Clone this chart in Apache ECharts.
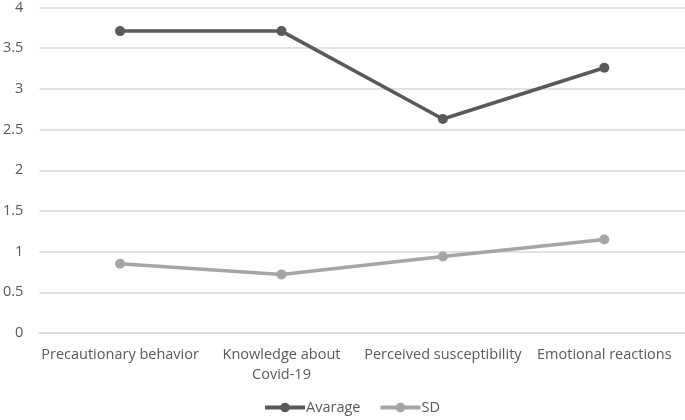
<!DOCTYPE html>
<html><head><meta charset="utf-8">
<script src="https://cdn.jsdelivr.net/npm/echarts@6/dist/echarts.min.js"></script>
<style>html,body{margin:0;padding:0;background:#fff}#c{width:685px;height:420px}</style>
</head><body><div id="c"></div>
<script>
var categories = ['Precautionary behavior', 'Knowledge about\nCovid-19', 'Perceived susceptibility', 'Emotional reactions'];
var average = [3.71, 3.71, 2.63, 3.26];
var sd = [0.85, 0.72, 0.94, 1.15];
var yTicks = {min: 0, max: 4, interval: 0.5};

var chart = echarts.init(document.getElementById('c'), null, {renderer: 'canvas'});
var font = '"Open Sans", sans-serif';
chart.setOption({
  animation: false,
  textStyle: {fontFamily: font},
  grid: {left: 36, right: 0, top: 6, bottom: 87, containLabel: false},
  legend: {
    bottom: 0, left: 258, itemWidth: 40, itemHeight: 12, itemGap: 18,
    lineStyle: {width: 4},
    textStyle: {color: '#595959', fontSize: 14.5, fontFamily: font, padding: [0, 0, 0, -4]},
    data: ['Avarage', 'SD']
  },
  xAxis: {
    type: 'category', data: categories, boundaryGap: true,
    axisLine: {lineStyle: {color: '#d9d9d9', width: 1.5}},
    axisTick: {show: false},
    axisLabel: {color: '#595959', fontSize: 14.5, margin: 12, interval: 0, lineHeight: 20, fontFamily: font}
  },
  yAxis: {
    type: 'value', min: yTicks.min, max: yTicks.max, interval: yTicks.interval,
    axisLine: {show: false}, axisTick: {show: false},
    splitLine: {lineStyle: {color: '#d9d9d9', width: 1.5}},
    axisLabel: {color: '#595959', fontSize: 14.5, margin: 16, fontFamily: font}
  },
  series: [
    {name: 'Avarage', type: 'line', data: average, symbol: 'circle', symbolSize: 10,
     lineStyle: {color: '#595959', width: 3.5}, itemStyle: {color: '#595959'}},
    {name: 'SD', type: 'line', data: sd, symbol: 'circle', symbolSize: 10,
     lineStyle: {color: '#a5a5a5', width: 3.5}, itemStyle: {color: '#a5a5a5'}}
  ]
});
</script></body></html>
